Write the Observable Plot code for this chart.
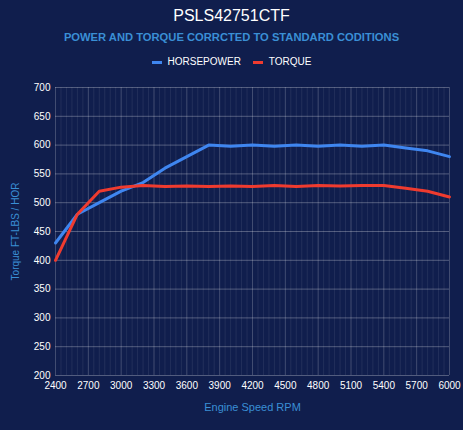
<!DOCTYPE html>
<html><head><meta charset="utf-8">
<script src="https://cdn.jsdelivr.net/npm/d3@7"></script>
<script src="https://cdn.jsdelivr.net/npm/@observablehq/plot@0.6"></script>
<style>
html,body{margin:0;padding:0;background:#101e4d;}
#wrap{width:463px;height:430px;position:relative;overflow:hidden;font-family:"Liberation Sans",Arial,sans-serif;}
.title{position:absolute;top:8px;left:0;width:100%;text-align:center;color:#fff;font-size:16px;line-height:16px;}
.sub{position:absolute;top:31px;left:0;width:100%;text-align:center;color:#3a8fd5;font-size:11.2px;line-height:12px;font-weight:bold;}
.legend{position:absolute;top:56px;left:0;width:100%;display:flex;justify-content:center;align-items:center;color:#fff;font-size:10px;line-height:12px;}
.legend .item{display:flex;align-items:center;margin:0 6px;}
.legend .sw{width:10px;height:3px;margin-right:6px;}
#chart{position:absolute;top:75px;left:0;}
</style>
</head><body>
<div id="wrap">
  <div class="title" id="title"></div>
  <div class="sub" id="sub"></div>
  <div class="legend" id="legend"></div>
  <div id="chart"></div>
</div>
<script>
const titleText = "PSLS42751CTF";
const subtitleText = "POWER AND TORQUE CORRCTED TO STANDARD CODITIONS";
const xLabel = "Engine Speed RPM";
const yLabel = "Torque FT-LBS / HOR";
const seriesNames = ["HORSEPOWER", "TORQUE"];
const seriesColors = ["#3f86f0", "#ef3b2f"];
const rpm = [2400,2600,2800,3000,3200,3400,3600,3800,4000,4200,4400,4600,4800,5000,5200,5400,5600,5800,6000];
const horsepower = [430,480,500,520,535,560,580,600,598,600,598,600,598,600,598,600,595,590,580];
const torque = [400,480,520,527,530,528,529,528,529,528,530,528,530,529,530,530,525,520,510];
const xTicks = [2400,2700,3000,3300,3600,3900,4200,4500,4800,5100,5400,5700,6000];
const yTicks = [200,250,300,350,400,450,500,550,600,650,700];
const minorX = d3.range(2400, 6001, 50);

document.getElementById("title").textContent = titleText;
document.getElementById("sub").textContent = subtitleText;
const leg = document.getElementById("legend");
seriesNames.forEach((n,i)=>{
  const it = document.createElement("div"); it.className="item";
  const sw = document.createElement("div"); sw.className="sw"; sw.style.background=seriesColors[i];
  const t = document.createElement("span"); t.textContent=n;
  it.appendChild(sw); it.appendChild(t); leg.appendChild(it);
});

const data = [];
rpm.forEach((r,i)=>{
  data.push({rpm:r, value:horsepower[i], series:seriesNames[0]});
});
rpm.forEach((r,i)=>{
  data.push({rpm:r, value:torque[i], series:seriesNames[1]});
});

const chart = Plot.plot({
  width:463, height:350,
  marginTop:12, marginBottom:50, marginLeft:55, marginRight:14,
  style:{background:"transparent", color:"#fff", fontSize:"10px", fontFamily:"'Liberation Sans', Arial, sans-serif"},
  x:{domain:[2400,6000]},
  y:{domain:[200,700]},
  color:{domain:seriesNames, range:seriesColors},
  marks:[
    Plot.gridX(minorX,{stroke:"#ffffff", strokeOpacity:0.08}),
    Plot.gridX(xTicks,{stroke:"#ffffff", strokeOpacity:0.14}),
    Plot.gridY(yTicks,{stroke:"#ffffff", strokeOpacity:0.28}),
    Plot.axisX(xTicks,{tickSize:0, tickPadding:6, tickFormat:d=>String(d), label:null, fill:"#fff"}),
    Plot.axisY(yTicks,{tickSize:0, tickPadding:5, tickFormat:d=>String(d), label:null, fill:"#fff"}),
    Plot.text([xLabel],{frameAnchor:"bottom", dy:35, fill:"#3a8fd5", fontSize:11}),
    Plot.text([yLabel],{frameAnchor:"left", textAnchor:"middle", rotate:-90, dx:-40, fill:"#3a8fd5", fontSize:10}),
    Plot.line(data,{x:"rpm", y:"value", stroke:"series", z:"series", strokeWidth:3, curve:"linear"})
  ]
});
document.getElementById("chart").appendChild(chart);
</script>
</body></html>
